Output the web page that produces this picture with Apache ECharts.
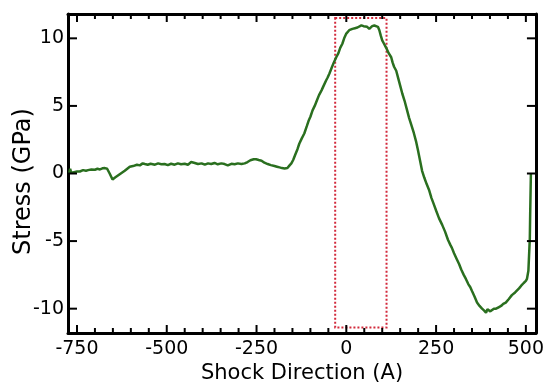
<!DOCTYPE html>
<html>
<head>
<meta charset="utf-8">
<script src="https://cdn.jsdelivr.net/npm/echarts@6/dist/echarts.min.js"></script>
<style>html,body{margin:0;padding:0;background:#fff}#c{width:547px;height:384px}</style>
</head>
<body>
<div id="c"></div>
<script>
// Shock direction position (A)
var shockX = [-772,-769,-766,-758,-750,-742,-733,-725,-719,-710,-700,-693,-686,-679,-672,-666,-659,-651,-644,-636,-628,-617,-610,-603,-594,-583,-575,-567,-561,-553,-545,-533,-524,-515,-506,-497,-488,-478,-469,-460,-450,-441,-432,-422,-413,-403,-394,-385,-376,-367,-358,-348,-339,-330,-320,-311,-302,-292,-283,-275,-267,-258,-251,-244,-236,-228,-219,-210,-200,-193,-186,-179,-172,-168,-164,-158,-153,-148,-142,-136,-131,-124,-117,-110,-105,-100,-94,-88,-82,-76,-69,-63,-56,-52,-47,-41,-35,-28,-22,-17,-11,-6,0,8,13,17,24,31,36,42,48,53,58,64,69,72,78,83,88,92,96,100,105,111,118,125,129,133,139,145,150,156,162,168,175,181,188,194,199,205,211,217,224,231,237,244,250,258,267,275,283,290,294,300,307,314,320,327,333,340,345,350,357,364,371,378,384,389,393,397,401,406,411,417,424,431,437,444,452,461,470,481,487,494,500,503,507,509,511,512,513,514];
// Stress (GPa)
var stress = [0.0,0.35,0.05,0.1,0.15,0.15,0.25,0.2,0.25,0.3,0.28,0.35,0.3,0.38,0.4,0.35,0.0,-0.45,-0.3,-0.15,0.0,0.2,0.35,0.5,0.55,0.65,0.6,0.75,0.7,0.65,0.72,0.65,0.75,0.68,0.7,0.62,0.72,0.65,0.75,0.68,0.72,0.65,0.85,0.78,0.7,0.75,0.65,0.75,0.7,0.78,0.68,0.75,0.7,0.6,0.72,0.68,0.75,0.7,0.75,0.85,0.98,1.05,1.05,1.0,0.95,0.8,0.7,0.62,0.55,0.5,0.45,0.4,0.37,0.45,0.4,0.6,0.75,1.0,1.4,1.8,2.2,2.6,2.96,3.5,3.9,4.2,4.67,5.0,5.4,5.8,6.15,6.5,6.9,7.1,7.4,7.8,8.2,8.6,8.9,9.3,9.6,10.0,10.35,10.6,10.65,10.7,10.75,10.8,10.9,10.96,10.9,10.8,10.85,10.7,10.8,10.9,10.95,11.0,10.85,10.6,10.2,9.85,9.6,9.3,8.9,8.6,8.2,7.9,7.6,7.0,6.5,5.9,5.4,4.8,4.1,3.6,3.0,2.4,1.8,1.0,0.2,-0.3,-0.8,-1.26,-1.8,-2.3,-2.74,-3.3,-3.8,-4.3,-4.9,-5.3,-5.5,-5.9,-6.3,-6.7,-7.1,-7.5,-7.8,-8.2,-8.4,-8.7,-9.1,-9.55,-9.8,-10.0,-10.15,-10.3,-10.05,-10.0,-10.2,-10.15,-10.0,-10.0,-9.9,-9.8,-9.65,-9.55,-9.3,-9.0,-8.8,-8.5,-8.3,-8.1,-7.95,-7.8,-7.2,-6.0,-4.8,-3.0,-1.5,0.0];
// Tick values
var xMajorTicks = [-750,-500,-250,0,250,500];
var xMinorTicks = [-700,-650,-600,-550,-450,-400,-350,-300,-200,-150,-100,-50,50,100,150,200,300,350,400,450];
var yMajorTicks = [-10,-5,0,5,10];
// Axis titles
var xTitle = 'Shock Direction (A)';
var yTitle = 'Stress (GPa)';
// Highlight box (data coords)
var boxX = [-31, 112];
var boxY = [-11.4, 11.5];

var xMin = -775, xMax = 528, yMin = -11.8, yMax = 11.8;
var FONT = 'DejaVu Sans';

var data = shockX.map(function(x, i){ return [x, stress[i]]; });

function lineCfg(){ return {show:true, onZero:false, lineStyle:{color:'#000', width:3}}; }

// Tick marks drawn through the axes' own scales (api.coord)
function xTickRender(len){
  return function(params, api){
    var v = api.value(0);
    var b = api.coord([v, yMin]);
    var t = api.coord([v, yMax]);
    var st = {stroke:'#000', lineWidth:2};
    return {type:'group', children:[
      {type:'line', shape:{x1:b[0], y1:b[1], x2:b[0], y2:b[1]-len}, style:st},
      {type:'line', shape:{x1:t[0], y1:t[1], x2:t[0], y2:t[1]+len}, style:st}
    ]};
  };
}
function yTickRender(len){
  return function(params, api){
    var v = api.value(1);
    var l = api.coord([xMin, v]);
    var r = api.coord([xMax, v]);
    var st = {stroke:'#000', lineWidth:2};
    return {type:'group', children:[
      {type:'line', shape:{x1:l[0], y1:l[1], x2:l[0]+len, y2:l[1]}, style:st},
      {type:'line', shape:{x1:r[0], y1:r[1], x2:r[0]-len, y2:r[1]}, style:st}
    ]};
  };
}

var chart = echarts.init(document.getElementById('c'));
chart.setOption({
  animation:false,
  grid:{left:68, right:10, top:14, bottom:51, containLabel:false},
  graphic:[{
    type:'text', x:302, y:374,
    style:{text:xTitle, fill:'#000', fontSize:21, fontFamily:FONT, align:'center', verticalAlign:'middle'}
  }],
  xAxis:[
    {
      type:'value', position:'bottom', min:xMin, max:xMax,
      axisLine:lineCfg(), axisTick:{show:false},
      axisLabel:{show:true, customValues:xMajorTicks, color:'#000', fontSize:19, fontFamily:FONT, margin:7},
      splitLine:{show:false}
    },
    {
      type:'value', position:'top', min:xMin, max:xMax,
      axisLine:lineCfg(), axisTick:{show:false}, axisLabel:{show:false}, splitLine:{show:false}
    }
  ],
  yAxis:[
    {
      type:'value', position:'left', min:yMin, max:yMax,
      axisLine:lineCfg(), axisTick:{show:false},
      axisLabel:{show:true, customValues:yMajorTicks, color:'#000', fontSize:19, fontFamily:FONT, margin:4},
      splitLine:{show:false},
      name:yTitle, nameLocation:'middle', nameGap:32, nameMoveOverlap:false,
      nameTextStyle:{color:'#000', fontSize:24, fontFamily:FONT, padding:[0,16,0,0]}
    },
    {
      type:'value', position:'right', min:yMin, max:yMax,
      axisLine:lineCfg(), axisTick:{show:false}, axisLabel:{show:false}, splitLine:{show:false}
    }
  ],
  series:[
    {
      type:'line', xAxisIndex:0, yAxisIndex:0, data:data,
      showSymbol:false, symbol:'none',
      lineStyle:{color:'#2a6f1f', width:2.5},
      markArea:{
        silent:true,
        itemStyle:{color:'rgba(0,0,0,0)', borderColor:'#d22a3c', borderWidth:2, borderType:'dotted'},
        data:[[{coord:[boxX[0], boxY[1]]},{coord:[boxX[1], boxY[0]]}]]
      }
    },
    {
      type:'custom', xAxisIndex:0, yAxisIndex:0, silent:true, clip:false, z:5,
      data:xMajorTicks.map(function(v){ return [v, 0]; }),
      encode:{x:0, y:1}, renderItem:xTickRender(8)
    },
    {
      type:'custom', xAxisIndex:0, yAxisIndex:0, silent:true, clip:false, z:5,
      data:xMinorTicks.map(function(v){ return [v, 0]; }),
      encode:{x:0, y:1}, renderItem:xTickRender(5)
    },
    {
      type:'custom', xAxisIndex:0, yAxisIndex:0, silent:true, clip:false, z:5,
      data:yMajorTicks.map(function(v){ return [0, v]; }),
      encode:{x:0, y:1}, renderItem:yTickRender(9)
    }
  ]
});
</script>
</body>
</html>
